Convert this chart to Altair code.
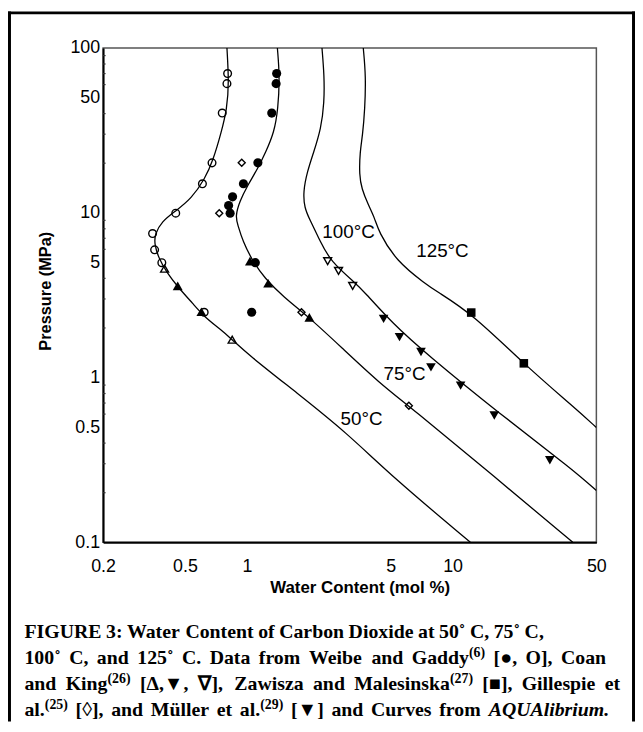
import altair as alt
import pandas as pd

# ---------------- data ----------------
# AQUAlibrium curves (water content mol %, pressure MPa)
c50_x = [0.800, 0.818, 0.800, 0.751, 0.685, 0.625, 0.538, 0.448, 0.386, 0.356, 0.356, 0.372,
         0.408, 0.464, 0.548, 0.625, 0.737, 0.848, 1.009, 1.757, 3.058, 5.13, 12.2]
c50_p = [100, 61.6, 42.6, 30.8, 20.8, 16.1, 12.2, 10.2, 8.87, 7.38, 6.42, 5.33,
         4.33, 3.52, 2.80, 2.32, 1.98, 1.70, 1.386, 0.804, 0.462, 0.248, 0.1]
c75_x = [1.407, 1.444, 1.418, 1.357, 1.236, 1.128, 1.009, 0.921, 0.879, 0.903, 0.955, 1.067,
         1.214, 1.516, 1.963, 2.894, 4.42, 6.17, 16.13, 38.4]
c75_p = [100, 67.6, 42.6, 30.8, 23.4, 18.5, 14.7, 11.7, 9.50, 8.47, 6.72, 5.09,
         4.04, 3.06, 2.38, 1.517, 0.924, 0.668, 0.248, 0.1]
c100_x = [2.318, 2.378, 2.378, 2.292, 2.114, 1.963, 1.878, 1.905, 2.022, 2.274, 2.542, 3.416,
          3.680, 5.13, 7.42, 16.73, 39.1, 50]
c100_p = [100, 67.6, 46.7, 32.3, 23.4, 17.7, 13.4, 10.7, 9.08, 6.72, 5.09, 3.69,
          3.36, 2.12, 1.40, 0.610, 0.272, 0.206]
c125_x = [3.680, 3.788, 3.746, 3.652, 3.544, 3.520, 3.612, 3.890, 4.186, 4.36, 5.324, 7.42,
          8.29, 12.46, 22.5, 39.1, 50]
c125_p = [100, 67.6, 42.6, 29.4, 23.4, 16.9, 14.06, 11.17, 9.28, 7.72, 5.09, 3.69,
          3.36, 2.44, 1.19, 0.657, 0.498]

# experimental points
circ_open_x = [0.806, 0.800, 0.759, 0.677, 0.608, 0.451, 0.348, 0.356, 0.386, 0.620]
circ_open_p = [70.0, 60.8, 40.3, 20.1, 15.0, 9.95, 7.48, 5.96, 4.98, 2.49]
circ_fill_x = [1.396, 1.387, 1.321, 1.131, 0.962, 0.852, 0.815, 0.829, 1.099, 1.055]
circ_fill_p = [70.0, 60.8, 40.3, 20.1, 15.0, 12.5, 11.06, 9.95, 4.98, 2.49]
tri_up_open_x = [0.398, 0.848]
tri_up_open_p = [4.58, 1.698]
tri_up_fill_x = [0.461, 0.601, 1.035, 1.269, 2.013]
tri_up_fill_p = [3.60, 2.51, 5.09, 3.74, 2.32]
tri_dn_open_x = [2.47, 2.79, 3.268]
tri_dn_open_p = [5.09, 4.44, 3.60]
tri_dn_fill_x = [4.62, 5.52, 7.02, 7.85, 10.94, 15.95, 29.7]
tri_dn_fill_p = [2.27, 1.76, 1.43, 1.153, 0.894, 0.588, 0.315]
square_x = [12.32, 22.2]
square_p = [2.48, 1.22]
diamond_x = [0.944, 0.734, 1.843, 6.13]
diamond_p = [20.1, 9.95, 2.49, 0.675]

# curve labels
label_text = ["50°C", "75°C", "100°C", "125°C"]
label_x = [3.61, 5.84, 3.12, 8.93]
label_p = [0.556, 1.051, 7.64, 5.85]

x_ticks = [0.2, 0.5, 1, 5, 10, 50]
y_ticks = [0.1, 0.5, 1, 5, 10, 50, 100]
y_minor = [0.2, 0.3, 0.4, 0.6, 0.7, 0.8, 0.9, 2, 3, 4, 6, 7, 8, 9, 20, 30, 40, 60, 70, 80, 90]

# caption words: (text, style)  style: w = word, s = superscript (no space before), i = italic word
caption_lines = [
    [("FIGURE", "w"), ("3:", "w"), ("Water", "w"), ("Content", "w"), ("of", "w"), ("Carbon", "w"),
     ("Dioxide", "w"), ("at", "w"), ("50˚", "w"), ("C,", "w"), ("75˚", "w"), ("C,", "w")],
    [("100˚", "w"), ("C,", "w"), ("and", "w"), ("125˚", "w"), ("C.", "w"), ("Data", "w"),
     ("from", "w"), ("Weibe", "w"), ("and", "w"), ("Gaddy", "w"), ("(6)", "s"), ("[●,", "w"),
     ("O],", "w"), ("Coan", "w")],
    [("and", "w"), ("King", "w"), ("(26)", "s"), ("[Δ,▼,", "w"), ("∇],", "w"), ("Zawisza", "w"),
     ("and", "w"), ("Malesinska", "w"), ("(27)", "s"), ("[■],", "w"), ("Gillespie", "w"),
     ("et", "w")],
    [("al.", "w"), ("(25)", "s"), ("[◊],", "w"), ("and", "w"), ("Müller", "w"), ("et", "w"),
     ("al.", "w"), ("(29)", "s"), ("[▼]", "w"), ("and", "w"), ("Curves", "w"), ("from", "w"),
     ("AQUAlibrium.", "i")],
]

# ---------------- layout (pixels, relative to the plot area) ----------------
cap_left = -79.4
cap_right = [445, 507.8, 522, 511]   # where each caption line ends (justified)
cap_y = [590, 616, 642.5, 668.5]
CAP_SIZE, SUP_SIZE, SUP_RAISE = 20, 14, 5.5

# approximate advance widths (1/1000 em) of Liberation Serif Bold / Bold Italic
_bold = {" ": 250, "(": 333, ")": 333, ",": 250, ".": 250, ":": 333, "[": 333, "]": 333,
         "˚": 333, "●": 604, "■": 604, "▼": 990, "◊": 494, "Δ": 667, "∇": 760, "ü": 556}
for ch in "0123456789":
    _bold[ch] = 500
_bold.update(dict(zip("ABCDEFGHIJKLMNOPQRSTUVWXYZ",
                      [722, 667, 722, 722, 667, 611, 778, 778, 389, 500, 778, 667, 944, 722,
                       778, 611, 778, 722, 556, 667, 722, 722, 1000, 722, 722, 667])))
_bold.update(dict(zip("abcdefghijklmnopqrstuvwxyz",
                      [500, 556, 444, 556, 444, 333, 500, 556, 278, 333, 556, 278, 833, 556,
                       500, 556, 556, 444, 389, 333, 556, 500, 722, 500, 500, 444])))
_ital = dict(_bold)
_ital.update({"A": 667, "Q": 722, "U": 722, "b": 500, "r": 389, "u": 556, "m": 778, "i": 278,
              "l": 278})


def text_w(s, size, table):
    return sum(table.get(ch, 556) for ch in s) * size / 1000.0


# ---------------- chart ----------------
SANS = "Liberation Sans"
SERIF = "Liberation Serif"

X = alt.X("x:Q",
          scale=alt.Scale(type="log", domain=[0.2, 50], nice=False),
          axis=alt.Axis(values=x_ticks, format="~g", grid=False, ticks=False,
                        domainColor="black", domainWidth=2,
                        labelFont=SANS, labelFontSize=18, labelColor="black",
                        labelPadding=15, labelFlush=False, labelOverlap=False,
                        title="Water Content (mol %)", titleFont=SANS, titleFontSize=17,
                        titleFontWeight="bold", titleColor="black",
                        titleX=259, titleY=46, titleBaseline="middle", titleAlign="center"))
Y = alt.Y("p:Q",
          scale=alt.Scale(type="log", domain=[0.1, 100], nice=False),
          axis=alt.Axis(values=y_ticks, format="~g", grid=False, ticks=False,
                        domainColor="black", domainWidth=2,
                        labelFont=SANS, labelFontSize=18, labelColor="black",
                        labelPadding=3.5, labelFlush=False, labelOverlap=False,
                        title="Pressure (MPa)", titleFont=SANS, titleFontSize=16.5,
                        titleFontWeight="bold", titleColor="black", titleAngle=270,
                        titleX=-58, titleY=245, titleBaseline="middle", titleAlign="center"))

curves = []
for name, xs, ps in [("50", c50_x, c50_p), ("75", c75_x, c75_p),
                     ("100", c100_x, c100_p), ("125", c125_x, c125_p)]:
    curves.append(pd.DataFrame({"x": xs, "p": ps, "curve": name, "order": list(range(len(xs)))}))
curve_df = pd.concat(curves, ignore_index=True)

lines = alt.Chart(curve_df).mark_line(
    color="black", strokeWidth=1.3, interpolate="basis", clip=True
).encode(x=X, y=Y, detail="curve:N", order="order:Q")


def pts(xs, ps, shape, filled, size):
    df = pd.DataFrame({"x": xs, "p": ps})
    if filled:
        m = alt.Chart(df).mark_point(shape=shape, filled=True, size=size, color="black",
                                     opacity=1, strokeWidth=0)
    else:
        m = alt.Chart(df).mark_point(shape=shape, filled=False, size=size, color="black",
                                     opacity=1, strokeWidth=1.4)
    return m.encode(x=X, y=Y)


points = [
    pts(circ_open_x, circ_open_p, "circle", False, 60),
    pts(circ_fill_x, circ_fill_p, "circle", True, 85),
    pts(tri_up_open_x, tri_up_open_p, "triangle-up", False, 64),
    pts(tri_up_fill_x, tri_up_fill_p, "triangle-up", True, 100),
    pts(tri_dn_open_x, tri_dn_open_p, "triangle-down", False, 64),
    pts(tri_dn_fill_x, tri_dn_fill_p, "triangle-down", True, 95),
    pts(square_x, square_p, "square", True, 75),
    pts(diamond_x, diamond_p, "diamond", False, 50),
]

lab_df = pd.DataFrame({"x": label_x, "p": label_p, "t": label_text})
halo = alt.Chart(lab_df).mark_text(
    font=SANS, fontSize=19, align="center", baseline="middle",
    stroke="white", strokeWidth=4, color="white"
).encode(x=X, y=Y, text="t:N")
labels = alt.Chart(lab_df).mark_text(
    font=SANS, fontSize=19, align="center", baseline="middle", color="black"
).encode(x=X, y=Y, text="t:N")

minor = alt.Chart(pd.DataFrame({"p": y_minor})).mark_rule(
    color="#333", strokeWidth=1.2
).encode(y=Y, x=alt.value(0), x2=alt.value(2.5))

one = alt.Data(values=[{}])
frame_l = alt.Chart(one).mark_rule(color="black", strokeWidth=3, clip=False).encode(
    x=alt.value(-94.5), y=alt.value(-37), y2=alt.value(680))
frame_t = alt.Chart(one).mark_rule(color="black", strokeWidth=3, clip=False).encode(
    x=alt.value(-96), x2=alt.value(537), y=alt.value(-35.5))
frame_r = alt.Chart(one).mark_rule(color="black", strokeWidth=3, clip=False).encode(
    x=alt.value(535.5), y=alt.value(-37), y2=alt.value(680))

# caption: words laid out and justified between cap_left and cap_right
cap_layers = []
space_w = text_w(" ", CAP_SIZE, _bold)
for words, right, yy in zip(caption_lines, cap_right, cap_y):
    widths, gaps = [], 0
    for i, (txt, st) in enumerate(words):
        if st == "s":
            widths.append(text_w(txt, SUP_SIZE, _bold))
        elif st == "i":
            widths.append(text_w(txt, CAP_SIZE, _ital))
        else:
            widths.append(text_w(txt, CAP_SIZE, _bold))
        if i > 0 and st != "s":
            gaps += 1
    natural = sum(widths) + gaps * space_w
    gap = space_w + (right - cap_left - natural) / max(gaps, 1)
    cur = cap_left
    for i, ((txt, st), w) in enumerate(zip(words, widths)):
        if i > 0 and st != "s":
            cur += gap
        kw = dict(text=txt, font=SERIF, fontWeight="bold", color="black", clip=False,
                  baseline="middle", align="left", fontSize=CAP_SIZE)
        ypos = yy
        if st == "s":
            kw["fontSize"] = SUP_SIZE
            ypos = yy - SUP_RAISE
        elif st == "i":
            kw["fontStyle"] = "italic"
        cap_layers.append(alt.Chart(one).mark_text(**kw).encode(
            x=alt.value(round(cur, 2)), y=alt.value(ypos)))
        cur += w

chart = alt.layer(
    lines, *points, halo, labels, minor, frame_l, frame_t, frame_r, *cap_layers
).properties(
    width=498, height=499,
    padding={"left": 96, "top": 37, "right": 39, "bottom": 180},
    autosize=alt.AutoSizeParams(type="none"),
).configure_view(stroke="#555", strokeWidth=1.5)

chart.save("out.html", embed_options={"renderer": "svg", "actions": False})
